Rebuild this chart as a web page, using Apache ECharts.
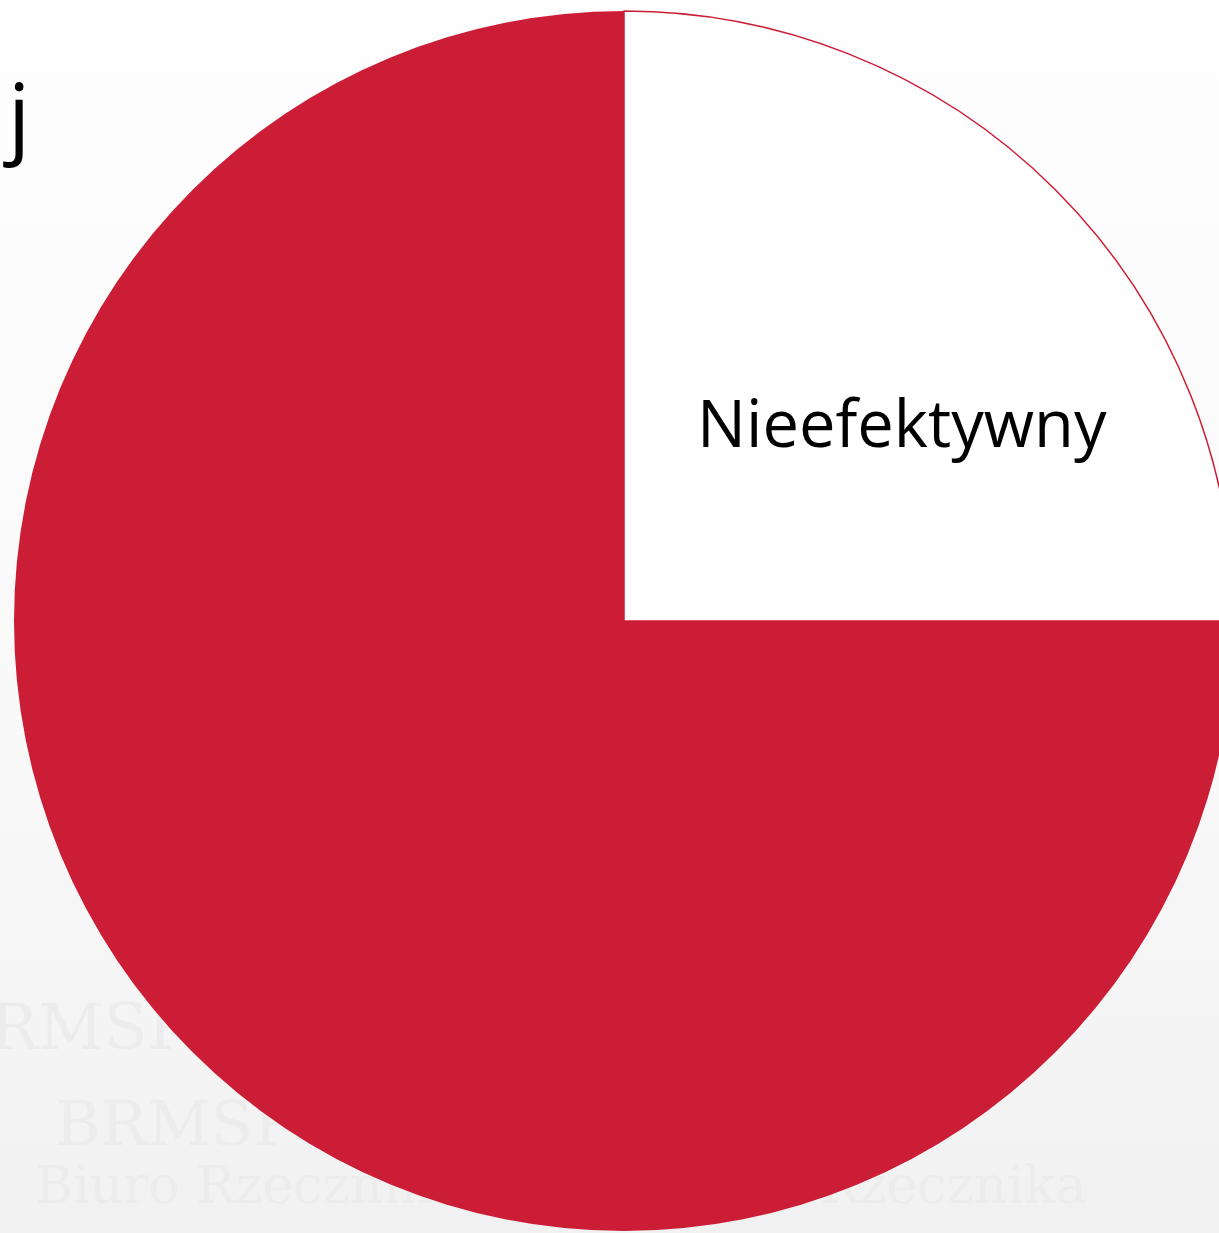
<!DOCTYPE html>
<html>
<head>
<meta charset="utf-8">
<script src="https://cdn.jsdelivr.net/npm/echarts@6/dist/echarts.min.js"></script>
<style>
  html, body { margin: 0; padding: 0; }
  #pie { width: 1219px; height: 1233px; }
</style>
</head>
<body>
<div id="pie"></div>
<script>
var categories = ['Nieefektywny', 'Efektywny'];
var values = [25, 75];
var colors = ['#ffffff', '#cc1d36'];

var myChart = echarts.init(document.getElementById('pie'));

// faint watermark in the background
var watermark = [
    { text: 'RMSP', x: -10, y: 1000, size: 64 },
    { text: 'BRMSP', x: 55, y: 1098, size: 62 },
    { text: 'Biuro Rzecznika', x: 35, y: 1163, size: 52 },
    { text: 'Rzecznika', x: 820, y: 1163, size: 52 }
];

var option = {
    backgroundColor: {
        type: 'linear', x: 0, y: 0, x2: 0, y2: 1,
        colorStops: [
            { offset: 0, color: '#fefefe' },
            { offset: 0.6, color: '#f9f9f9' },
            { offset: 1, color: '#f1f1f1' }
        ]
    },
    graphic: watermark.map(function (w) {
        return {
            type: 'text', left: w.x, top: w.y, z: -1, silent: true,
            style: { text: w.text, font: w.size + 'px "DejaVu Serif"', fill: '#ececec' }
        };
    }).concat([{
        type: 'text', left: 8, top: 78,
        style: { text: 'j', font: '88px "Open Sans"', fill: '#000' }
    }]),
    series: [{
        type: 'pie',
        center: [624, 621],
        radius: 610,
        startAngle: 90,
        clockwise: true,
        silent: true,
        data: categories.map(function (c, i) {
            return {
                name: c,
                value: values[i],
                itemStyle: {
                    color: colors[i],
                    borderColor: '#cc1d36',
                    borderWidth: i === 0 ? 1.5 : 0
                },
                label: { show: i === 0 }
            };
        }),
        label: {
            position: 'inside',
            color: '#000',
            fontFamily: 'Open Sans',
            fontSize: 65
        },
        labelLayout: { dx: 60, dy: 25 },
        labelLine: { show: false }
    }]
};

myChart.setOption(option);
</script>
</body>
</html>
